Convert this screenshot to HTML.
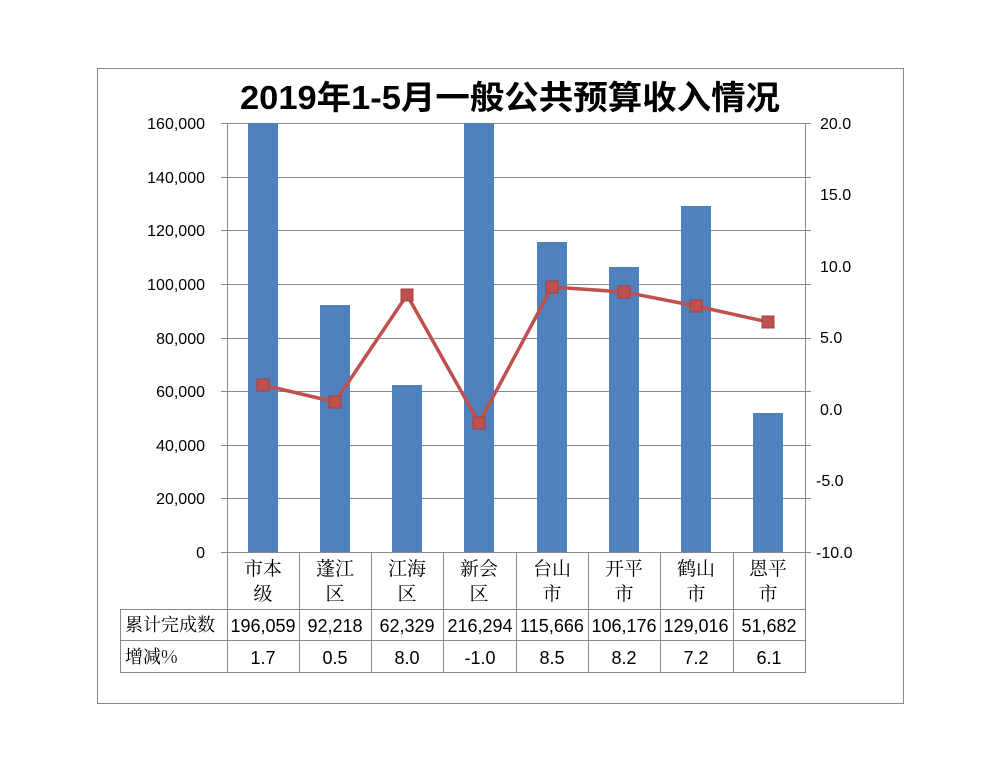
<!DOCTYPE html><html><head><meta charset="utf-8"><style>body{margin:0;background:#fff}svg{display:block}</style></head><body>
<svg width="1000" height="772" xmlns="http://www.w3.org/2000/svg" font-family="Liberation Sans, Noto Sans CJK SC, sans-serif">
<rect x="97.5" y="68.5" width="806" height="635" fill="#fff" stroke="#888"/>
<text x="510" y="109" text-anchor="middle" font-size="33" font-weight="bold" fill="#000" textLength="540" lengthAdjust="spacingAndGlyphs">2019年1-5月一般公共预算收入情况</text>
<g stroke="#888" stroke-width="1">
<line x1="221" y1="123.5" x2="811" y2="123.5"/><line x1="221" y1="177.5" x2="811" y2="177.5"/><line x1="221" y1="230.5" x2="811" y2="230.5"/><line x1="221" y1="284.5" x2="811" y2="284.5"/><line x1="221" y1="338.5" x2="811" y2="338.5"/><line x1="221" y1="391.5" x2="811" y2="391.5"/><line x1="221" y1="445.5" x2="811" y2="445.5"/><line x1="221" y1="498.5" x2="811" y2="498.5"/><line x1="221" y1="552.5" x2="811" y2="552.5"/>
<line x1="227.5" y1="123" x2="227.5" y2="673"/><line x1="805.5" y1="123" x2="805.5" y2="673"/>
<line x1="299.5" y1="552" x2="299.5" y2="673"/><line x1="371.5" y1="552" x2="371.5" y2="673"/><line x1="443.5" y1="552" x2="443.5" y2="673"/><line x1="516.5" y1="552" x2="516.5" y2="673"/><line x1="588.5" y1="552" x2="588.5" y2="673"/><line x1="660.5" y1="552" x2="660.5" y2="673"/><line x1="733.5" y1="552" x2="733.5" y2="673"/>
<line x1="120.5" y1="609.5" x2="805.5" y2="609.5"/><line x1="120.5" y1="640.5" x2="805.5" y2="640.5"/><line x1="120.5" y1="672.5" x2="805.5" y2="672.5"/><line x1="120.5" y1="609" x2="120.5" y2="673"/>
</g>
<g fill="#4f81bd">
<rect x="248" y="123" width="30" height="429"/><rect x="320" y="305" width="30" height="247"/><rect x="392" y="385" width="30" height="167"/><rect x="464" y="123" width="30" height="429"/><rect x="537" y="242" width="30" height="310"/><rect x="609" y="267" width="30" height="285"/><rect x="681" y="206" width="30" height="346"/><rect x="753" y="413" width="30" height="139"/>
</g>
<polyline points="263,385 335,402 407,295 479,423 552,287 624,292 696,306 768,322" fill="none" stroke="#c0504d" stroke-width="3.5"/>
<g fill="#c0504d" stroke="#a04040" stroke-width="1">
<rect x="257" y="379" width="12" height="12"/><rect x="329" y="396" width="12" height="12"/><rect x="401" y="289" width="12" height="12"/><rect x="473" y="417" width="12" height="12"/><rect x="546" y="281" width="12" height="12"/><rect x="618" y="286" width="12" height="12"/><rect x="690" y="300" width="12" height="12"/><rect x="762" y="316" width="12" height="12"/>
</g>
<g font-size="16" fill="#000" text-anchor="end">
<text x="205" y="129">160,000</text><text x="205" y="183">140,000</text><text x="205" y="236">120,000</text><text x="205" y="290">100,000</text><text x="205" y="344">80,000</text><text x="205" y="397">60,000</text><text x="205" y="451">40,000</text><text x="205" y="504">20,000</text><text x="205" y="558">0</text>
</g>
<g font-size="16" fill="#000" text-anchor="start">
<text x="820" y="129">20.0</text><text x="820" y="200">15.0</text><text x="820" y="272">10.0</text><text x="820" y="343">5.0</text><text x="820" y="415">0.0</text><text x="816" y="486">-5.0</text><text x="816" y="558">-10.0</text>
</g>
<g font-size="19" fill="#000" text-anchor="middle" font-family="Noto Serif CJK SC, serif">
<text x="263" y="575">市本</text><text x="263" y="600">级</text>
<text x="335" y="575">蓬江</text><text x="335" y="600">区</text>
<text x="407" y="575">江海</text><text x="407" y="600">区</text>
<text x="479" y="575">新会</text><text x="479" y="600">区</text>
<text x="552" y="575">台山</text><text x="552" y="600">市</text>
<text x="624" y="575">开平</text><text x="624" y="600">市</text>
<text x="696" y="575">鹤山</text><text x="696" y="600">市</text>
<text x="768" y="575">恩平</text><text x="768" y="600">市</text>
</g>
<g font-size="18" fill="#000">
<text x="125" y="631" font-family="Noto Serif CJK SC, serif">累计完成数</text>
<text x="125" y="663" font-family="Noto Serif CJK SC, serif">增减%</text>
</g>
<g font-size="18" fill="#000" text-anchor="middle">
<text x="263" y="632">196,059</text><text x="335" y="632">92,218</text><text x="407" y="632">62,329</text><text x="480" y="632">216,294</text><text x="552" y="632">115,666</text><text x="624" y="632">106,176</text><text x="696" y="632">129,016</text><text x="769" y="632">51,682</text>
<text x="263" y="664">1.7</text><text x="335" y="664">0.5</text><text x="407" y="664">8.0</text><text x="480" y="664">-1.0</text><text x="552" y="664">8.5</text><text x="624" y="664">8.2</text><text x="696" y="664">7.2</text><text x="769" y="664">6.1</text>
</g>
</svg>
</body></html>
